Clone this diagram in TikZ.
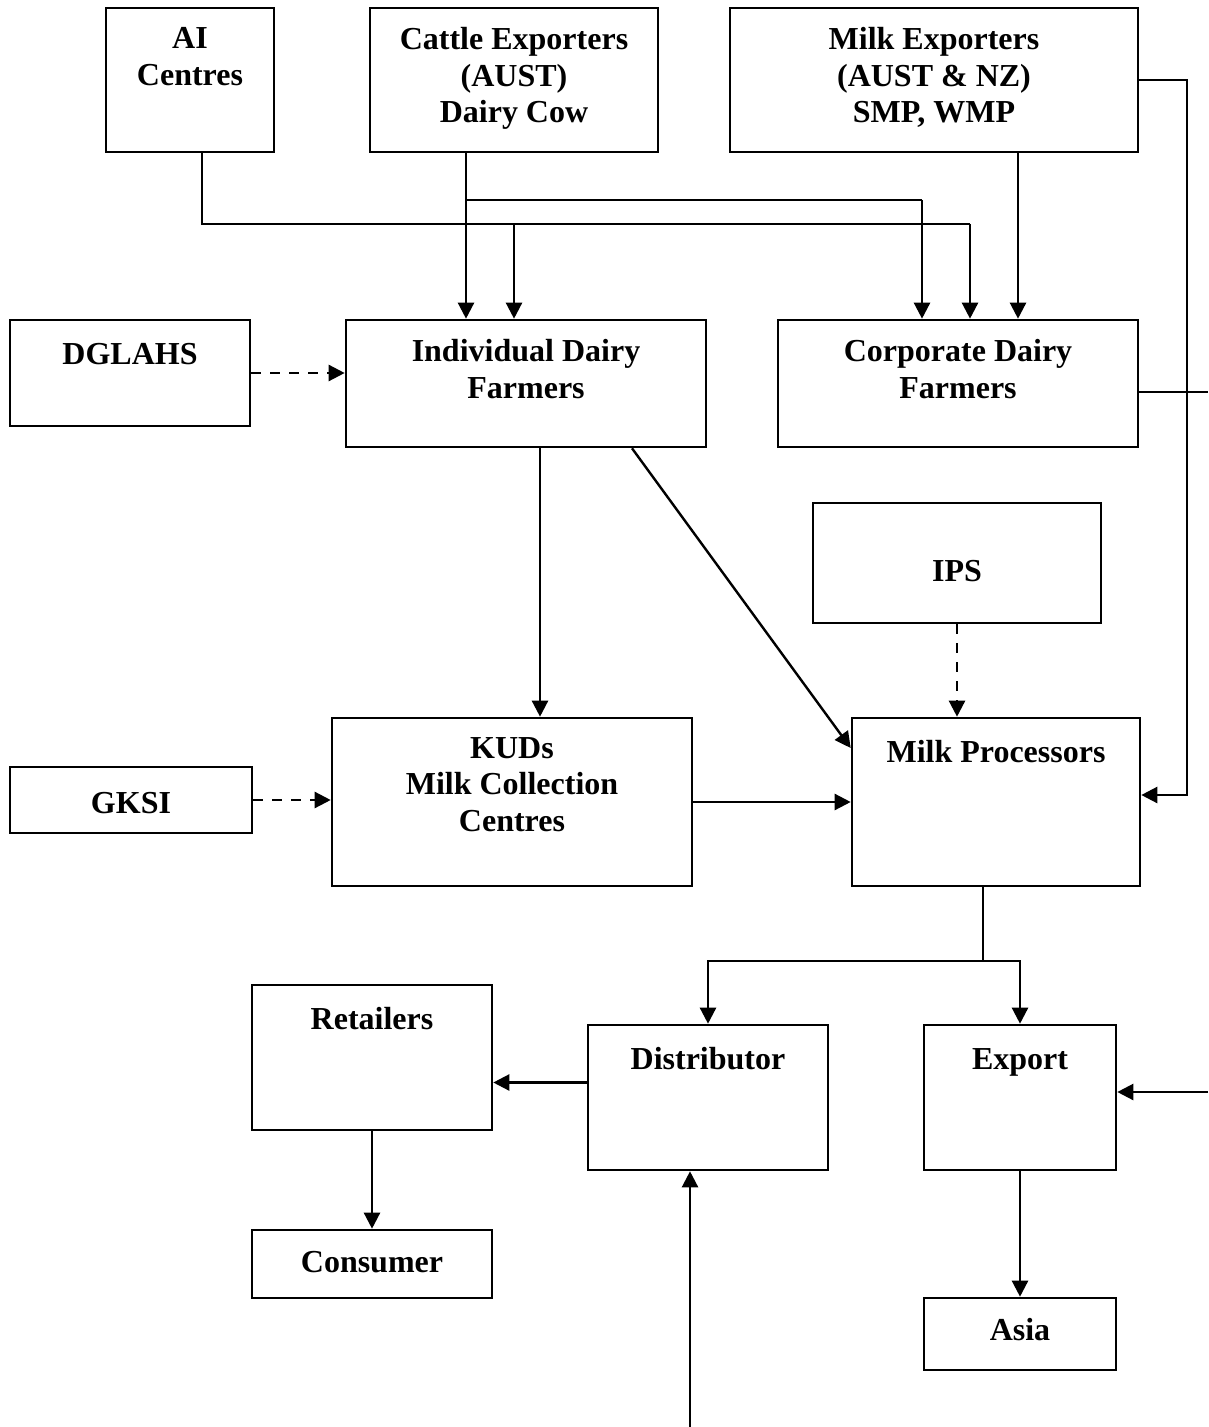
\documentclass[tikz,border=0pt]{standalone}
\usepackage{fontspec}
\setmainfont{Liberation Serif}
\usetikzlibrary{arrows.meta,fit,positioning}

\tikzset{
    box/.style={draw, line width=1.3pt, inner sep=0pt, fit={#1}},
    lbl/.style={anchor=north, align=center, inner sep=0pt, yshift=#1, execute at begin node=\strut},
    lbl/.default=-10pt,
    arr/.style={line width=1.2pt, -{Triangle[length=8pt,width=8pt]}},
    dasharr/.style={arr, dash pattern=on 5pt off 4.5pt},
    line/.style={line width=1.2pt},
}

\begin{document}
\begin{tikzpicture}[x=0.5pt, y=-0.5pt, font=\fontsize{16}{18.4}\selectfont\bfseries]
    \useasboundingbox (0,0) rectangle (1208,1427);

    % Suppliers
    \node[box={(106,8) (274,152)}] (ai) {};
    \node[lbl] (aitext) at (ai.north) {AI\\Centres};
    \node[box={(370,8) (658,152)}] (cattle) {};
    \node[lbl] (cattletext) at (cattle.north) {Cattle Exporters\\(AUST)\\Dairy Cow};
    \node[box={(730,8) (1138,152)}] (milkexp) {};
    \node[lbl] (milkexptext) at (milkexp.north) {Milk Exporters\\(AUST \& NZ)\\SMP, WMP};

    % Farmers
    \node[box={(10,320) (250,426)}] (dglahs) {};
    \node[lbl] (dglahstext) at (dglahs.north) {DGLAHS};
    \node[box={(346,320) (706,447)}] (indiv) {};
    \node[lbl] (indivtext) at (indiv.north) {Individual Dairy\\Farmers};
    \node[box={(778,320) (1138,447)}] (corp) {};
    \node[lbl] (corptext) at (corp.north) {Corporate Dairy\\Farmers};

    % Collection and processing
    \node[box={(813,503) (1101,623)}] (ips) {};
    \node[lbl=-27pt] (ipstext) at (ips.north) {IPS};
    \node[box={(10,767) (252,833)}] (gksi) {};
    \node[lbl=-10.6pt] (gksitext) at (gksi.north) {GKSI};
    \node[box={(332,718) (692,886)}] (kud) {};
    \node[lbl] (kudtext) at (kud.north) {KUDs\\Milk Collection\\Centres};
    \node[box={(852,718) (1140,886)}] (proc) {};
    \node[lbl] (proctext) at (proc.north) {Milk Processors};

    % Markets
    \node[box={(252,985) (492,1130)}] (retail) {};
    \node[lbl] (retailtext) at (retail.north) {Retailers};
    \node[box={(588,1025) (828,1170)}] (distr) {};
    \node[lbl] (distrtext) at (distr.north) {Distributor};
    \node[box={(924,1025) (1116,1170)}] (export) {};
    \node[lbl] (exporttext) at (export.north) {Export};
    \node[box={(252,1230) (492,1298)}] (consumer) {};
    \node[lbl=-8.6pt] (consumertext) at (consumer.north) {Consumer};
    \node[box={(924,1298) (1116,1370)}] (asia) {};
    \node[lbl=-8.6pt] (asiatext) at (asia.north) {Asia};

    % Turning points
    \coordinate (ajoin) at (202,224);
    \coordinate (abranch) at (514,224);
    \coordinate (aright) at (970,224);
    \coordinate (cjoin) at (466,200);
    \coordinate (cright) at (922,200);
    \coordinate (rturn) at (1187,795);
    \coordinate (corpout) at (1208,392);
    \coordinate (expin) at (1208,1092);
    \coordinate (split) at (983,961);
    \coordinate (distrin) at (690,1427);

    % Supply lines
    \draw[line] (ai.south -| ajoin) -- (ajoin) -- (aright);
    \draw[arr] (aright) -- (corp.north -| aright);
    \draw[arr] (abranch) -- (indiv.north -| abranch);
    \draw[arr] (cattle.south -| cjoin) -- (indiv.north -| cjoin);
    \draw[line] (cjoin) -- (cright);
    \draw[arr] (cright) -- (corp.north -| cright);
    \draw[arr] ([xshift=30pt]corp.north |- milkexp.south) -- ([xshift=30pt]corp.north);
    \draw[arr] (milkexp.east) -| (rturn) -- (rturn -| proc.east);
    \draw[line] (corp.east |- corpout) -- (corpout);

    % Support agencies
    \draw[dasharr] (dglahs.east) -- (dglahs.east -| indiv.west);
    \draw[dasharr] (gksi.east) -- (gksi.east -| kud.west);
    \draw[dasharr] (ips.south) -- (ips.south |- proc.north);

    % Milk flow
    \draw[arr] ([xshift=7pt]indiv.south) -- ([xshift=7pt]indiv.south |- kud.north);
    \draw[arr] ([xshift=53pt]indiv.south) -- ([yshift=27pt]proc.west);
    \draw[arr] (kud.east) -- (kud.east -| proc.west);
    \draw[line width=0.7pt] (proc.south -| split) -- (split);
    \draw[arr] (split) -| (distr.north);
    \draw[arr] (split) -| (export.north);
    \draw[arr] ([yshift=7.5pt]distr.west) -- ([yshift=7.5pt]distr.west -| retail.east);
    \draw[arr] (retail.south) -- (consumer.north);
    \draw[arr] (export.south) -- (asia.north);
    \draw[arr] (expin) -- (expin -| export.east);
    \draw[arr] (distrin) -- (distrin |- distr.south);
\end{tikzpicture}
\end{document}
